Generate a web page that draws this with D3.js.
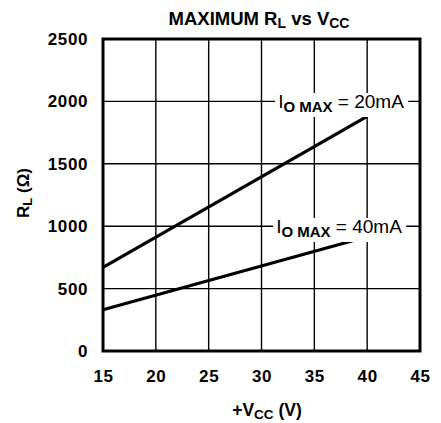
<!DOCTYPE html>
<html>
<head>
<meta charset="utf-8">
<script src="https://cdn.jsdelivr.net/npm/d3@7"></script>
<style>
  body { margin: 0; background: #fff; }
  svg { font-family: "Liberation Sans", Arial, sans-serif; }
</style>
</head>
<body>
<script>
"use strict";
// chart data
const vcc = [15, 40];
const rl20mA = [670, 1880];
const rl40mA = [330, 915];
const xTicks = [15, 20, 25, 30, 35, 40, 45];
const yTicks = [0, 500, 1000, 1500, 2000, 2500];

const width = 441, height = 423;
const margin = { top: 39, right: 21, bottom: 72, left: 103 };

const svg = d3.select("body").append("svg")
    .attr("width", width)
    .attr("height", height);

const x = d3.scaleLinear().domain([15, 45]).range([margin.left, width - margin.right]);
const y = d3.scaleLinear().domain([0, 2500]).range([height - margin.bottom, margin.top]);

// Grid lines
svg.append("g").selectAll("line.v")
    .data(xTicks.slice(1, -1))
    .enter().append("line")
    .attr("x1", d => x(d)).attr("x2", d => x(d))
    .attr("y1", y(2500)).attr("y2", y(0))
    .attr("stroke", "#000").attr("stroke-width", 1.4);

svg.append("g").selectAll("line.h")
    .data(yTicks.slice(1, -1))
    .enter().append("line")
    .attr("x1", x(15)).attr("x2", x(45))
    .attr("y1", d => y(d)).attr("y2", d => y(d))
    .attr("stroke", "#000").attr("stroke-width", 1.4);

// Data lines
const line = d3.line().x(d => x(d[0])).y(d => y(d[1]));
[rl20mA, rl40mA].forEach(series => {
    svg.append("path")
        .datum(vcc.map((v, i) => [v, series[i]]))
        .attr("d", line)
        .attr("fill", "none")
        .attr("stroke", "#000")
        .attr("stroke-width", 3.2);
});

// Curve labels with white backing
function curveLabel(cx, cy, current) {
    const g = svg.append("g");
    const bg = g.append("rect").attr("fill", "#fff");
    const t = g.append("text")
        .attr("x", cx).attr("y", cy)
        .attr("text-anchor", "middle")
        .attr("font-size", 19)
        .attr("fill", "#000");
    t.append("tspan").text("I");
    t.append("tspan").attr("dy", 4).attr("font-size", 15).attr("font-weight", "bold").text("O MAX");
    t.append("tspan").attr("dy", -4).text(" = " + current + "mA");
    const b = t.node().getBBox();
    bg.attr("x", b.x - 3).attr("y", b.y + 2).attr("width", b.width + 7).attr("height", b.height);
}
curveLabel(341, 108, 20);
curveLabel(339, 233, 40);

// Frame
svg.append("rect")
    .attr("x", x(15)).attr("y", y(2500))
    .attr("width", x(45) - x(15)).attr("height", y(0) - y(2500))
    .attr("fill", "none").attr("stroke", "#000").attr("stroke-width", 3);

// Axes tick labels
const xAxis = d3.axisBottom(x).tickValues(xTicks).tickFormat(d3.format("d")).tickSize(0).tickPadding(19);
svg.append("g")
    .attr("transform", `translate(0,${y(0)})`)
    .call(xAxis)
    .call(g => g.select(".domain").remove())
    .selectAll("text")
    .attr("font-family", "Liberation Sans, Arial, sans-serif")
    .attr("font-size", 17).attr("font-weight", "bold").attr("fill", "#000")
    .attr("letter-spacing", 0.6);

const yAxis = d3.axisLeft(y).tickValues(yTicks).tickFormat(d3.format("d")).tickSize(0).tickPadding(15);
svg.append("g")
    .attr("transform", `translate(${x(15)},0)`)
    .call(yAxis)
    .call(g => g.select(".domain").remove())
    .selectAll("text")
    .attr("font-family", "Liberation Sans, Arial, sans-serif")
    .attr("font-size", 17).attr("font-weight", "bold").attr("fill", "#000")
    .attr("letter-spacing", 0.6);

// Title
const title = svg.append("text")
    .attr("x", 259).attr("y", 25)
    .attr("text-anchor", "middle")
    .attr("font-size", 18.5).attr("font-weight", "bold");
title.append("tspan").text("MAXIMUM R");
title.append("tspan").attr("dy", 3).attr("font-size", 14).text("L");
title.append("tspan").attr("dy", -3).text(" vs V");
title.append("tspan").attr("dy", 3).attr("font-size", 14).text("CC");

// X label
const xl = svg.append("text")
    .attr("x", 267).attr("y", 416)
    .attr("text-anchor", "middle")
    .attr("font-size", 17.5).attr("font-weight", "bold");
xl.append("tspan").text("+V");
xl.append("tspan").attr("dy", 3).attr("font-size", 13.5).text("CC");
xl.append("tspan").attr("dy", -3).text(" (V)");

// Y label
const yl = svg.append("text")
    .attr("transform", `translate(29,${(y(0) + y(2500)) / 2 - 2}) rotate(-90)`)
    .attr("text-anchor", "middle")
    .attr("font-size", 17).attr("font-weight", "bold");
yl.append("tspan").text("R");
yl.append("tspan").attr("dy", 3).attr("font-size", 13).text("L");
yl.append("tspan").attr("dy", -3).text(" (Ω)");
</script>
</body>
</html>
